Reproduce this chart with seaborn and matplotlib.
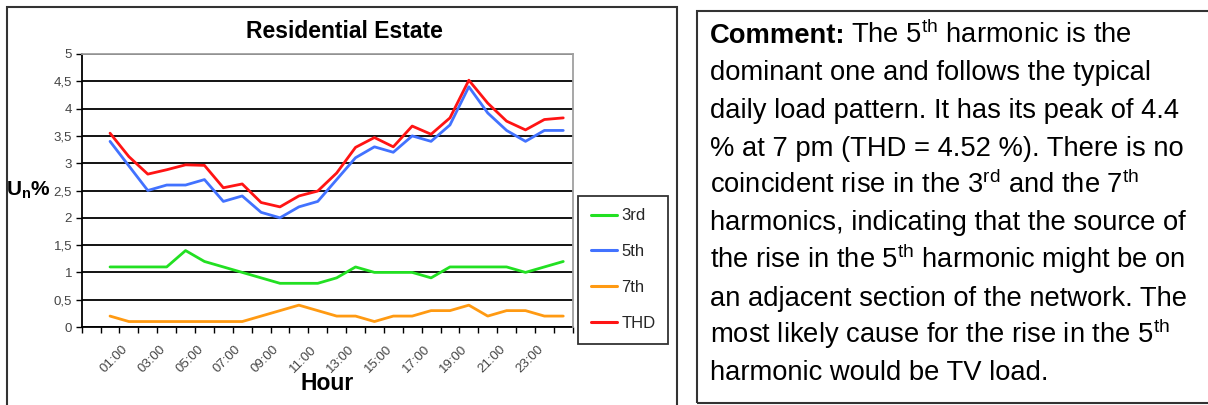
import numpy as np
import pandas as pd
import seaborn as sns
import matplotlib
matplotlib.use("Agg")
import matplotlib.pyplot as plt
from matplotlib.lines import Line2D
from matplotlib.patches import Rectangle
from matplotlib.ticker import FuncFormatter
import matplotlib.transforms as mtransforms

# data (hour of day, voltage harmonic in %)
hours = list(range(25))
third = [1.1, 1.1, 1.1, 1.1, 1.4, 1.2, 1.1, 1.0, 0.9, 0.8, 0.8, 0.8, 0.9,
         1.1, 1.0, 1.0, 1.0, 0.9, 1.1, 1.1, 1.1, 1.1, 1.0, 1.1, 1.2]
fifth = [3.40, 2.95, 2.50, 2.60, 2.60, 2.70, 2.30, 2.40, 2.10, 2.00, 2.20, 2.30, 2.70,
         3.10, 3.30, 3.20, 3.50, 3.40, 3.70, 4.40, 3.92, 3.60, 3.40, 3.60, 3.60]
seventh = [0.2, 0.1, 0.1, 0.1, 0.1, 0.1, 0.1, 0.1, 0.2, 0.3, 0.4, 0.3, 0.2,
           0.2, 0.1, 0.2, 0.2, 0.3, 0.3, 0.4, 0.2, 0.3, 0.3, 0.2, 0.2]
thd = [3.55, 3.12, 2.80, 2.88, 2.97, 2.96, 2.55, 2.62, 2.28, 2.20, 2.40, 2.49, 2.82,
       3.29, 3.47, 3.30, 3.68, 3.53, 3.83, 4.52, 4.10, 3.77, 3.61, 3.80, 3.83]

series_names = ["3rd", "5th", "7th", "THD"]
colors = ["#22e022", "#4272ff", "#ff9a12", "#ff1414"]
hour_ticks = list(range(1, 24, 2))
hour_labels = [f"{h:02d}:00" for h in hour_ticks]

comment_lines = [
    "The 5$^{\\mathrm{th}}$ harmonic is the",
    "dominant one and follows the typical",
    "daily load pattern. It has its peak of 4.4",
    "% at 7 pm (THD = 4.52 %). There is no",
    "coincident rise in the 3$^{\\mathrm{rd}}$ and the 7$^{\\mathrm{th}}$",
    "harmonics, indicating that the source of",
    "the rise in the 5$^{\\mathrm{th}}$ harmonic might be on",
    "an adjacent section of the network. The",
    "most likely cause for the rise in the 5$^{\\mathrm{th}}$",
    "harmonic would be TV load.",
]

df = pd.DataFrame({
    "hour": hours * 4,
    "value": third + fifth + seventh + thd,
    "series": sum([[n] * len(hours) for n in series_names], []),
})

sns.set_theme(style="white")
plt.rcParams["font.family"] = ["Liberation Sans", "DejaVu Sans"]
plt.rcParams["mathtext.fontset"] = "custom"
plt.rcParams["mathtext.rm"] = "Liberation Sans"
plt.rcParams["mathtext.it"] = "Liberation Sans:italic"
plt.rcParams["mathtext.bf"] = "Liberation Sans:bold"

W, H = 1208, 405
fig = plt.figure(figsize=(W / 100, H / 100), dpi=100)
ax = fig.add_axes([81.7 / W, 1 - 327 / H, 491 / W, 273 / H])

palette = dict(zip(series_names, colors))
sns.lineplot(data=df, x="hour", y="value", hue="series", palette=palette,
             linewidth=2.0, legend=False, ax=ax)

ax.set_xlim(-1.5, 24.5)
ax.set_ylim(0, 5)
ax.set_xlabel("")
ax.set_ylabel("")

# y axis: comma decimals, black grid lines
ax.set_yticks(np.arange(0, 5.01, 0.5))
ax.yaxis.set_major_formatter(FuncFormatter(lambda v, p: f"{v:g}".replace(".", ",")))
ax.set_axisbelow(True)
ax.yaxis.grid(True, color="black", linewidth=1.3)
ax.tick_params(axis="y", which="major", direction="out", length=4, width=1,
               color="black", labelsize=9.5, labelcolor="#444444", pad=3, left=True)

# x axis: category ticks between slots, labels every other hour
ax.set_xticks(hour_ticks)
ax.set_xticklabels(hour_labels, rotation=45, ha="right", va="center",
                   rotation_mode="anchor")
ax.set_xticks(np.arange(-1.5, 24.6, 1), minor=True)
ax.tick_params(axis="x", which="major", length=0, labelsize=9.5,
               labelcolor="#444444", pad=15)
ax.tick_params(axis="x", which="minor", direction="out", length=4, width=1,
               color="black", bottom=True)
shift = mtransforms.ScaledTranslation(-3 / 100, 0, fig.dpi_scale_trans)
for lab in ax.get_xticklabels():
    lab.set_transform(lab.get_transform() + shift)

for side in ["left", "bottom"]:
    ax.spines[side].set_color("black")
    ax.spines[side].set_linewidth(1.3)
for side in ["top", "right"]:
    ax.spines[side].set_color("#a0a0a0")
    ax.spines[side].set_linewidth(1.3)
    ax.spines[side].set_zorder(3)

handles = [Line2D([], [], color=c, linewidth=2.2) for c in colors]
leg = ax.legend(handles, series_names, loc="upper left",
                bbox_to_anchor=(578 / W, 1 - 196 / H), bbox_transform=fig.transFigure,
                frameon=True, fancybox=False, edgecolor="black", fontsize=12,
                handlelength=1.6, handletextpad=0.25, labelspacing=1.25,
                borderpad=0.75, borderaxespad=0)
leg.get_frame().set_linewidth(1.3)

# texts around the chart
fig.text(344 / W, 1 - 31 / H, "Residential Estate", ha="center", va="center",
         fontsize=16.5, fontweight="bold", color="black")
fig.text(327 / W, 1 - 384 / H, "Hour", ha="center", va="center",
         fontsize=16.5, fontweight="bold", color="black")
fig.text(6 / W, 1 - 190 / H, "U$_\\mathbf{n}$%", ha="left", va="center",
         fontsize=15, fontweight="bold", color="black")

# frames
fig.add_artist(Rectangle((6.7 / W, -0.05), 670 / W, 1.05 - 6.7 / H,
                         transform=fig.transFigure, fill=False,
                         edgecolor="#333333", linewidth=1.5))
fig.add_artist(Rectangle((697.3 / W, 1 - 403 / H), 520 / W, (403 - 10.7) / H,
                         transform=fig.transFigure, fill=False,
                         edgecolor="#333333", linewidth=1.5))

# comment box
text_x = 710
fs = 19.7
baselines = [43 + 37.5 * i for i in range(len(comment_lines))]
bold = fig.text(text_x / W, 1 - baselines[0] / H, "Comment:", ha="left",
                va="baseline", fontsize=fs, fontweight="bold", color="black")
renderer = fig.canvas.get_renderer()
bw = bold.get_window_extent(renderer).width
fig.text((text_x + bw + 6) / W, 1 - baselines[0] / H, comment_lines[0], ha="left",
         va="baseline", fontsize=fs, color="black")
for line, b in zip(comment_lines[1:], baselines[1:]):
    fig.text(text_x / W, 1 - b / H, line, ha="left", va="baseline",
             fontsize=fs, color="black")

fig.savefig("out.png", dpi=100, facecolor="white")
